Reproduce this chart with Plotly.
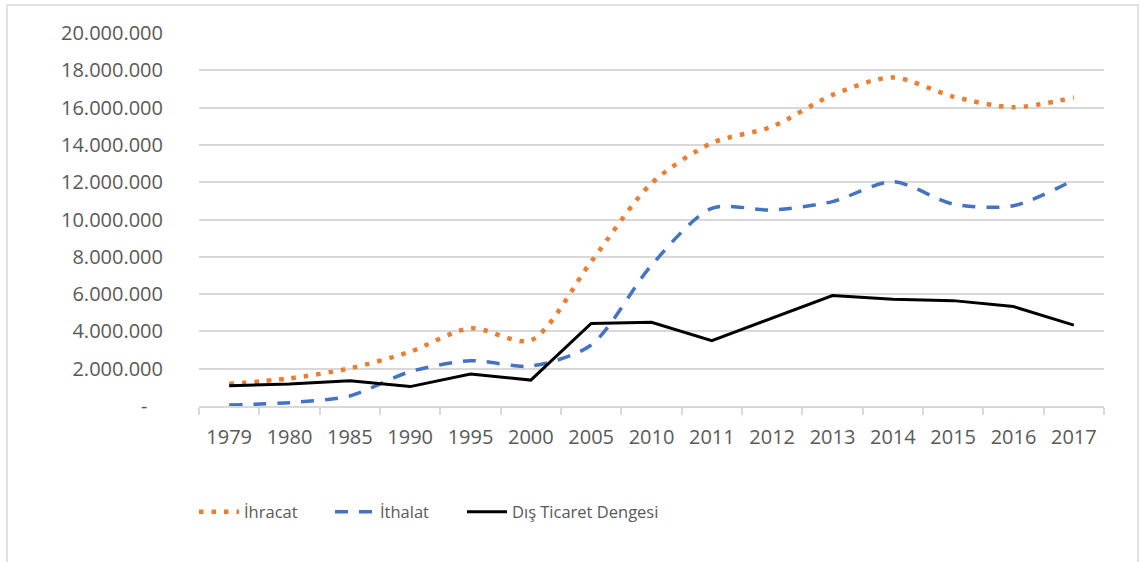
import plotly.graph_objects as go

years = ["1979", "1980", "1985", "1990", "1995", "2000", "2005", "2010",
         "2011", "2012", "2013", "2014", "2015", "2016", "2017"]
ihracat = [1180000, 1480000, 2020000, 2910000, 4170000, 3520000, 7740000, 11940000,
           14100000, 14980000, 16680000, 17620000, 16590000, 16020000, 16540000]
ithalat = [50000, 180000, 540000, 1840000, 2430000, 2140000, 3270000, 7550000,
           10600000, 10510000, 10960000, 12030000, 10830000, 10740000, 12120000]
denge = [1090000, 1180000, 1360000, 1040000, 1720000, 1390000, 4430000, 4490000,
         3500000, 4700000, 5920000, 5720000, 5650000, 5330000, 4340000]
ytick_vals = [0, 2000000, 4000000, 6000000, 8000000, 10000000, 12000000,
              14000000, 16000000, 18000000, 20000000]
ytick_text = ["-\u00a0\u00a0\u00a0", "2.000.000", "4.000.000", "6.000.000", "8.000.000",
              "10.000.000", "12.000.000", "14.000.000", "16.000.000",
              "18.000.000", "20.000.000"]
names = ["İhracat", "İthalat", "Dış Ticaret Dengesi"]

W, H = 1140, 562
L, R, T, B = 199, 1104, 33, 406

fig = go.Figure()
fig.add_trace(go.Scatter(x=years, y=ihracat, name=names[0], mode="lines",
                         line=dict(color="#ED7D31", width=4.5, dash="4.5px,8px",
                                   shape="spline", smoothing=0.8),
                         legend="legend"))
fig.add_trace(go.Scatter(x=years, y=ithalat, name=names[1], mode="lines",
                         line=dict(color="#4472C4", width=3.5, dash="13px,11px",
                                   shape="spline", smoothing=0.8),
                         legend="legend2"))
fig.add_trace(go.Scatter(x=years, y=denge, name=names[2], mode="lines",
                         line=dict(color="#000000", width=3),
                         legend="legend3"))

font_tick = dict(family="Open Sans", size=20, color="#595959")
font_leg = dict(family="Open Sans", size=16.5, color="#595959")

def leg(xpx):
    return dict(xref="container", yref="container", x=xpx / W, y=1 - 512 / H,
                xanchor="left", yanchor="middle", font=font_leg,
                bgcolor="rgba(0,0,0,0)", borderwidth=0, itemwidth=40)

fig.update_layout(
    width=W, height=H,
    margin=dict(l=L, r=W - R, t=T, b=H - B, autoexpand=False),
    paper_bgcolor="white", plot_bgcolor="white",
    showlegend=True,
    legend=leg(194), legend2=leg(330), legend3=leg(462),
    xaxis=dict(type="category", tickson="boundaries", ticks="outside", ticklen=7,
               tickcolor="#d9d9d9", tickwidth=1.5, showline=True,
               linecolor="#d9d9d9", linewidth=1.5, showgrid=False,
               tickangle=0, automargin=False, ticklabelstandoff=12,
               tickfont=font_tick, range=[-0.5, len(years) - 0.5]),
    yaxis=dict(range=[0, 20000000], tickvals=ytick_vals, ticktext=ytick_text,
               showgrid=True, gridcolor="#d9d9d9", gridwidth=1.5, automargin=False,
               zeroline=False, tickfont=font_tick, ticks="",
               ticklabelstandoff=35),
    shapes=[dict(type="rect", xref="paper", yref="paper",
                 x0=(7 - L) / (R - L), x1=(1138 - L) / (R - L),
                 y0=(B - 575) / (B - T), y1=(B - 5) / (B - T),
                 line=dict(color="#d9d9d9", width=1.5), layer="below")],
)

fig.write_html("out.html", config={"displayModeBar": False},
               post_script="document.body.style.margin='0';document.body.style.overflow='hidden';")
